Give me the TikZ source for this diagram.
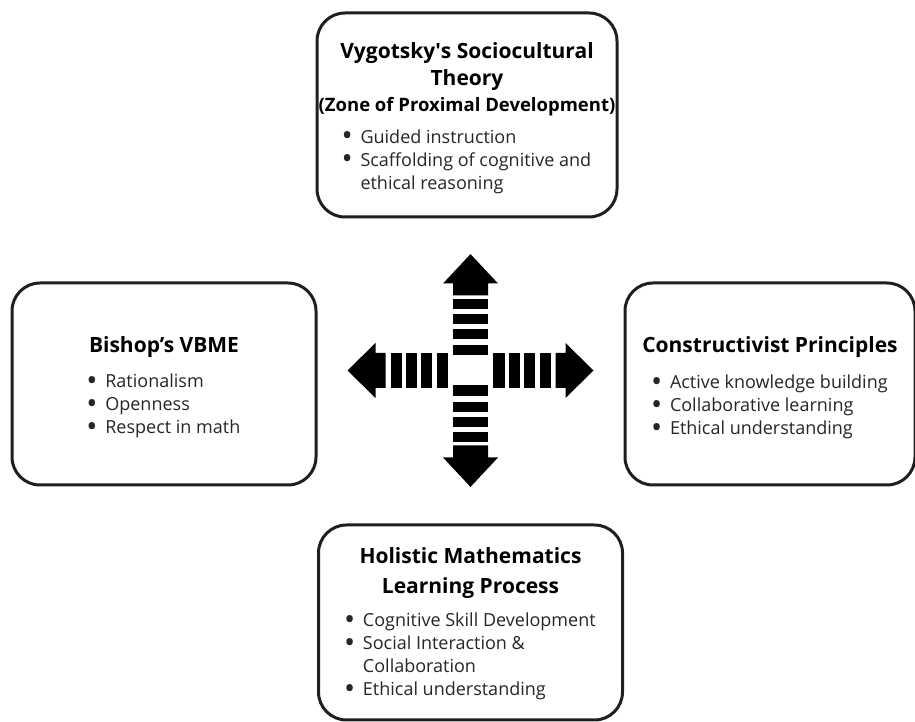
\documentclass[tikz,border=0pt]{standalone}
\usepackage{fontspec}
\setmainfont{Open Sans}
\usetikzlibrary{positioning}

\newcommand{\ttlfont}{\fontsize{21pt}{23pt}\selectfont\bfseries}
\newcommand{\subfont}{\fontsize{18.5pt}{23pt}\selectfont\bfseries}
\newcommand{\dotmark}{{\fontsize{23pt}{23pt}\selectfont\bfseries\raisebox{-0.5pt}{\textbullet}}}
\newcommand{\padtop}[1]{\rule{0pt}{#1}}

\begin{document}
\begin{tikzpicture}[node distance=254pt and 303pt,on grid]
  \useasboundingbox (0,0) rectangle (915pt,722pt);
  \coordinate (X) at (470.5pt,351.5pt);

\tikzset{pillar/.style={draw=black!88,line width=3pt,rounded corners=28pt,fill=white,
    inner sep=0pt,text=black!85,font=\fontsize{18pt}{23pt}\selectfont}}
\tikzset{bar/.style={fill=black}}

  \node[pillar,minimum width=300pt,minimum height=204pt] (vyg) [above =of X,anchor=center,xshift=-3.5pt,yshift=1.5pt]
    {\begin{tabular}{@{}c@{}}
     \padtop{24pt}{\ttlfont\color{black}Vygotsky\textquotesingle s Sociocultural}\\[4pt]
     {\ttlfont\color{black}Theory}\\[3pt]
     {\subfont\color{black}(Zone of Proximal Development)}\\[9pt]
     \begin{tabular}[t]{@{}l@{\hspace{9pt}}l@{}}
       \dotmark & Guided instruction\\
       \dotmark & Scaffolding of cognitive and\\
                & ethical reasoning
     \end{tabular}
     \end{tabular}};
  \node[pillar,minimum width=304pt,minimum height=202pt] (bish) [left =of X,anchor=center,xshift=-3.5pt,yshift=-13.5pt]
    {\begin{tabular}{@{}c@{}}
     \padtop{25pt}{\ttlfont\color{black}Bishop’s VBME}\\[12pt]
     \begin{tabular}[t]{@{}l@{\hspace{9pt}}l@{}}
       \dotmark & Rationalism\\
       \dotmark & Openness\\
       \dotmark & Respect in math
     \end{tabular}
     \end{tabular}};
  \node[pillar,minimum width=290pt,minimum height=202pt] (cons) [right =of X,anchor=center,xshift=-3.5pt,yshift=-13.5pt]
    {\begin{tabular}{@{}c@{}}
     \padtop{26pt}{\ttlfont\color{black}Constructivist Principles}\\[13pt]
     \begin{tabular}[t]{@{}l@{\hspace{9pt}}l@{}}
       \dotmark & Active knowledge building\\
       \dotmark & Collaborative learning\\
       \dotmark & Ethical understanding
     \end{tabular}
     \end{tabular}};
  \node[pillar,minimum width=304pt,minimum height=195pt] (hol) [below =of X,anchor=center,yshift=2pt]
    {\begin{tabular}{@{}c@{}}
     \padtop{21pt}{\ttlfont\color{black}Holistic Mathematics}\\[7pt]
     {\ttlfont\color{black}Learning Process}\\[10pt]
     \begin{tabular}[t]{@{}l@{\hspace{9pt}}l@{}}
       \dotmark & Cognitive Skill Development\\
       \dotmark & Social Interaction \&\\
                & Collaboration\\
       \dotmark & Ethical understanding
     \end{tabular}
     \end{tabular}};

  % striped cross of arrows
  \begin{scope}[shift={(X)}]
    \foreach \r in {0,180}{
      \foreach \s/\e in {22.7/34,38.3/49.3,53.3/64.7,69/80}
        \fill[bar,rotate=\r] (\s pt,-17.5pt) rectangle (\e pt,17.5pt);
      \fill[bar,rotate=\r] (85pt,-17.5pt) -- (95pt,-17.5pt) -- (95pt,-27.5pt) -- (123pt,0pt)
        -- (95pt,27.5pt) -- (95pt,17.5pt) -- (85pt,17.5pt) -- cycle;
    }
    \foreach \r in {90,270}{
      \foreach \s/\e in {15/25.5,31.5/41.5,46.5/56.7,61.7/71.5}
        \fill[bar,rotate=\r] (\s pt,-17.5pt) rectangle (\e pt,17.5pt);
      \fill[bar,rotate=\r] (75pt,-17.5pt) -- (87pt,-17.5pt) -- (87pt,-27.5pt) -- (116.4pt,0pt)
        -- (87pt,27.5pt) -- (87pt,17.5pt) -- (75pt,17.5pt) -- cycle;
    }
  \end{scope}
\end{tikzpicture}
\end{document}
